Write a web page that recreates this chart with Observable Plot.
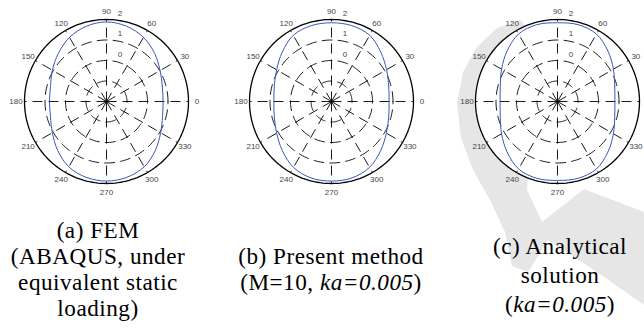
<!DOCTYPE html>
<html><head><meta charset="utf-8">
<script src="https://cdn.jsdelivr.net/npm/d3@7"></script>
<script src="https://cdn.jsdelivr.net/npm/@observablehq/plot@0.6"></script>
<style>
html,body{margin:0;padding:0;background:#fff;}
#wrap{position:relative;width:644px;height:335px;overflow:hidden;background:#fff;}
#wm{position:absolute;left:0;top:0;}
.cap{position:absolute;width:300px;text-align:center;font-family:"Liberation Serif","DejaVu Serif",serif;font-size:23.2px;letter-spacing:0.5px;color:#000;white-space:nowrap;}
</style></head>
<body><div id="wrap">
<svg id="wm" width="644" height="335"><path d="M520,20 L497,28 L477,47 L463,72 L457,103 L461,138 L473,170 L490,200 L505,232 L512,266 L528,272 L548,240 L600,274 L644,305 L644,212 L584,189 L542,222 L527,190 L530,150 L525,80 L540,40 Z" fill="#e6e6e6"/></svg>
</div>
<script>
// ---- data ----
const thetaDeg = [0,15,30,45,60,75,90,105,120,135,150,165,180,195,210,225,240,255,270,285,300,315,330,345];
const rhoFEM        = [0.76,0.82,1.02,1.32,1.61,1.80,1.88,1.80,1.61,1.32,1.05,0.83,0.78,0.83,1.05,1.37,1.68,1.83,1.88,1.83,1.68,1.37,1.05,0.83];
const rhoPresent    = [0.81,0.89,1.10,1.40,1.73,1.83,1.84,1.83,1.73,1.40,1.09,0.89,0.81,0.89,1.09,1.39,1.71,1.86,1.88,1.86,1.71,1.39,1.09,0.89];
const rhoAnalytical = [0.80,0.89,1.15,1.48,1.80,1.88,1.84,1.88,1.80,1.48,1.15,0.89,0.80,0.89,1.15,1.48,1.80,1.88,1.85,1.88,1.80,1.48,1.15,0.89];
const angleTicks = [0,30,60,90,120,150,180,210,240,270,300,330];
const ringValues = [-1,0,1];      // dashed rings
const outerValue = 2;             // solid outer circle
const ringLabelValues = [0,1,2];
const rhoDomain = [-2,2];
const panelCenters = [106,331,557];
const captions = [
  {cx: 98,  base: 238, lh: 26, html: "(a) FEM<br>(ABAQUS, under<br>equivalent static<br>loading)"},
  {cx: 331, base: 264, lh: 26, html: "(b) Present method<br>(M=10, <i>ka=0.005</i>)"},
  {cx: 560, base: 254, lh: 29, html: "(c) Analytical<br>solution<br>(<i>ka=0.005</i>)"}
];

// ---- geometry helpers ----
const pxPerUnit = 20.5, W = 220, H = 200, pageW = 644;
const rad = d => d * Math.PI / 180;
const toR = v => v - rhoDomain[0];
const px = (v, deg) => toR(v) * Math.cos(rad(deg));
const py = (v, deg) => toR(v) * Math.sin(rad(deg));
const labelR = 90.5 / pxPerUnit;
const dash = "10,6";
const labelFont = "Liberation Sans, Arial, sans-serif";

function circlePts(values) {
  const out = [];
  for (const v of values) for (let a = 0; a <= 360; a += 2) out.push({ring: v, x: px(v, a), y: py(v, a)});
  return out;
}

function panel(rho, cx) {
  const curve = thetaDeg.map((t, i) => ({x: px(rho[i], t), y: py(rho[i], t)}));
  // labels that would fall outside the page are not shown (as in the reference)
  const ticks = angleTicks.filter(d => cx + labelR * pxPerUnit * Math.cos(rad(d)) + 4 < pageW);
  return Plot.plot({
    width: W, height: H, margin: 0,
    x: {domain: [-W / 2 / pxPerUnit, W / 2 / pxPerUnit], axis: null},
    y: {domain: [-H / 2 / pxPerUnit, H / 2 / pxPerUnit], axis: null},
    style: {background: "transparent", overflow: "visible"},
    marks: [
      Plot.dot([0], {x: () => 0, y: () => 0, r: toR(outerValue) * pxPerUnit, fill: "#fff", stroke: "none"}),
      Plot.line(circlePts(ringValues), {x: "x", y: "y", z: "ring", stroke: "#000", strokeWidth: 0.9, strokeDasharray: dash}),
      Plot.link(angleTicks, {x1: () => 0, y1: () => 0, x2: d => px(outerValue, d), y2: d => py(outerValue, d),
        stroke: "#000", strokeWidth: 0.9, strokeDasharray: dash}),
      Plot.line(circlePts([outerValue]), {x: "x", y: "y", stroke: "#000", strokeWidth: 1.3}),
      Plot.line(curve, {x: "x", y: "y", curve: "catmull-rom-closed", stroke: "#3a58b8", strokeWidth: 1}),
      Plot.text(ticks, {x: d => labelR * Math.cos(rad(d)), y: d => labelR * Math.sin(rad(d)), text: d => String(d),
        fontSize: 8, fill: "#444", fontFamily: labelFont}),
      Plot.text(ringLabelValues, {x: () => 0.55, y: d => toR(d) + 0.32, text: d => String(d), textAnchor: "start",
        fontSize: 8, fill: "#444", fontFamily: labelFont})
    ]
  });
}

const wrap = document.getElementById("wrap");
[rhoFEM, rhoPresent, rhoAnalytical].forEach((rho, i) => {
  const svg = panel(rho, panelCenters[i]);
  svg.style.position = "absolute";
  svg.style.left = (panelCenters[i] - W / 2) + "px";
  svg.style.top = "1px";
  wrap.appendChild(svg);
});
// caption: first baseline at c.base (Liberation Serif ascent 0.891, descent 0.216)
const capFs = 23.2;
captions.forEach(c => {
  const d = document.createElement("div");
  d.className = "cap";
  const half = (c.lh - 1.107 * capFs) / 2;
  d.style.left = (c.cx - 150) + "px";
  d.style.top = (c.base - half - 0.891 * capFs) + "px";
  d.style.lineHeight = c.lh + "px";
  d.innerHTML = c.html;
  wrap.appendChild(d);
});
</script>
</body></html>
